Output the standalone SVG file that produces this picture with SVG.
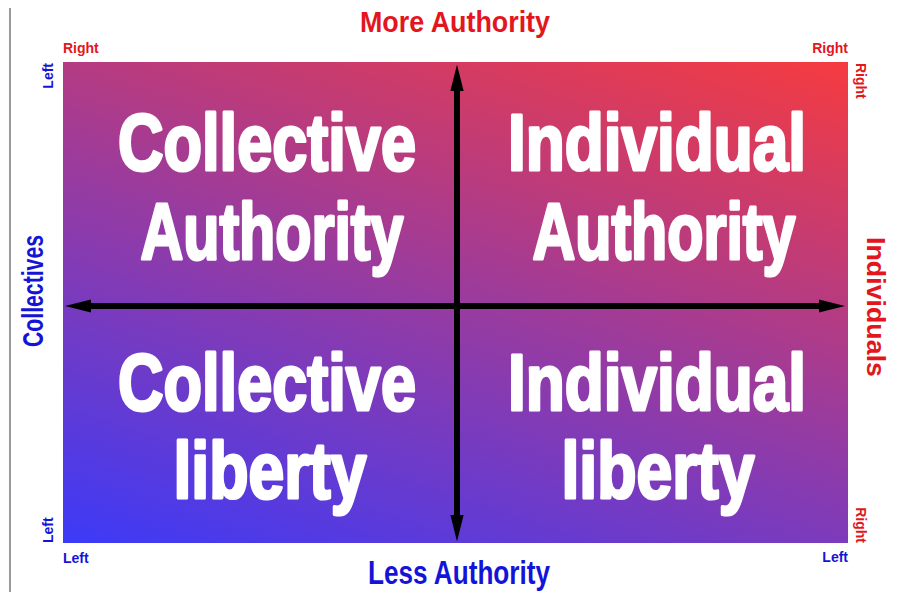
<svg xmlns="http://www.w3.org/2000/svg" width="897" height="592" viewBox="0 0 897 592">
<style>
.big{font-family:"Liberation Sans",Arial,sans-serif;font-weight:bold;font-size:80px;fill:#fff;stroke:#fff;stroke-width:3.2;stroke-linejoin:round;text-anchor:middle}
.title{font-family:"Liberation Sans",Arial,sans-serif;font-weight:bold;text-anchor:middle}
.red{fill:#e3161d}
.blue{fill:#1414d8}
.corner{font-family:"Liberation Sans",Arial,sans-serif;font-weight:bold;font-size:14px}
.axis{stroke:#000;stroke-width:6;fill:none}
</style>
<defs>
<linearGradient id="bg" gradientUnits="userSpaceOnUse" x1="63" y1="543" x2="283" y2="-124">
<stop offset="0" stop-color="#3c3af8"/>
<stop offset="0.5" stop-color="#983ba0"/>
<stop offset="1" stop-color="#f63b40"/>
</linearGradient>
<marker id="arrow" viewBox="0 0 20 10" refX="0" refY="5" markerWidth="4.4" markerHeight="2.3" orient="auto-start-reverse">
<path d="M0,0 L20,5 L0,10 z" fill="#000"/>
</marker>
</defs>
<rect width="897" height="592" fill="#fff"/>
<line x1="10" y1="8" x2="10" y2="592" stroke="#9a9a9a" stroke-width="2"/>
<g id="field">
<rect x="63" y="62" width="785" height="481" fill="url(#bg)"/>
</g>
<g id="connectors">
<line class="axis" x1="457" y1="91" x2="457" y2="515" marker-start="url(#arrow)" marker-end="url(#arrow)"/>
<line class="axis" x1="91" y1="306" x2="819" y2="306" marker-start="url(#arrow)" marker-end="url(#arrow)"/>
</g>
<g id="collective-authority">
<text class="big" x="267" y="170" textLength="298" lengthAdjust="spacingAndGlyphs">Collective</text>
<text class="big" x="272" y="259" textLength="263" lengthAdjust="spacingAndGlyphs">Authority</text>
</g>
<g id="individual-authority">
<text class="big" x="657" y="170" textLength="298" lengthAdjust="spacingAndGlyphs">Individual</text>
<text class="big" x="664" y="259" textLength="263" lengthAdjust="spacingAndGlyphs">Authority</text>
</g>
<g id="collective-liberty">
<text class="big" x="267" y="410" textLength="298" lengthAdjust="spacingAndGlyphs">Collective</text>
<text class="big" x="270" y="498" textLength="193" lengthAdjust="spacingAndGlyphs">liberty</text>
</g>
<g id="individual-liberty">
<text class="big" x="657" y="410" textLength="298" lengthAdjust="spacingAndGlyphs">Individual</text>
<text class="big" x="658" y="498" textLength="193" lengthAdjust="spacingAndGlyphs">liberty</text>
</g>
<g id="more-authority">
<text class="title red" x="455" y="32" font-size="30" textLength="190" lengthAdjust="spacingAndGlyphs">More Authority</text>
</g>
<g id="less-authority">
<text class="title blue" x="459" y="584" font-size="33" textLength="182" lengthAdjust="spacingAndGlyphs">Less Authority</text>
</g>
<g id="collectives">
<text class="title blue" transform="translate(43,291) rotate(-90)" font-size="30" textLength="112" lengthAdjust="spacingAndGlyphs">Collectives</text>
</g>
<g id="individuals">
<text class="title red" transform="translate(867,307) rotate(90)" font-size="26" textLength="140" lengthAdjust="spacingAndGlyphs">Individuals</text>
</g>
<g id="corner-labels">
<text class="corner red" x="63" y="53">Right</text>
<text class="corner blue" transform="translate(53,63) rotate(-90)" text-anchor="end">Left</text>
<text class="corner red" x="848" y="53" text-anchor="end">Right</text>
<text class="corner red" transform="translate(856,63) rotate(90)">Right</text>
<text class="corner blue" transform="translate(53,543) rotate(-90)">Left</text>
<text class="corner blue" x="63" y="563">Left</text>
<text class="corner red" transform="translate(856,543) rotate(90)" text-anchor="end">Right</text>
<text class="corner blue" x="848" y="562" text-anchor="end">Left</text>
</g>
</svg>
